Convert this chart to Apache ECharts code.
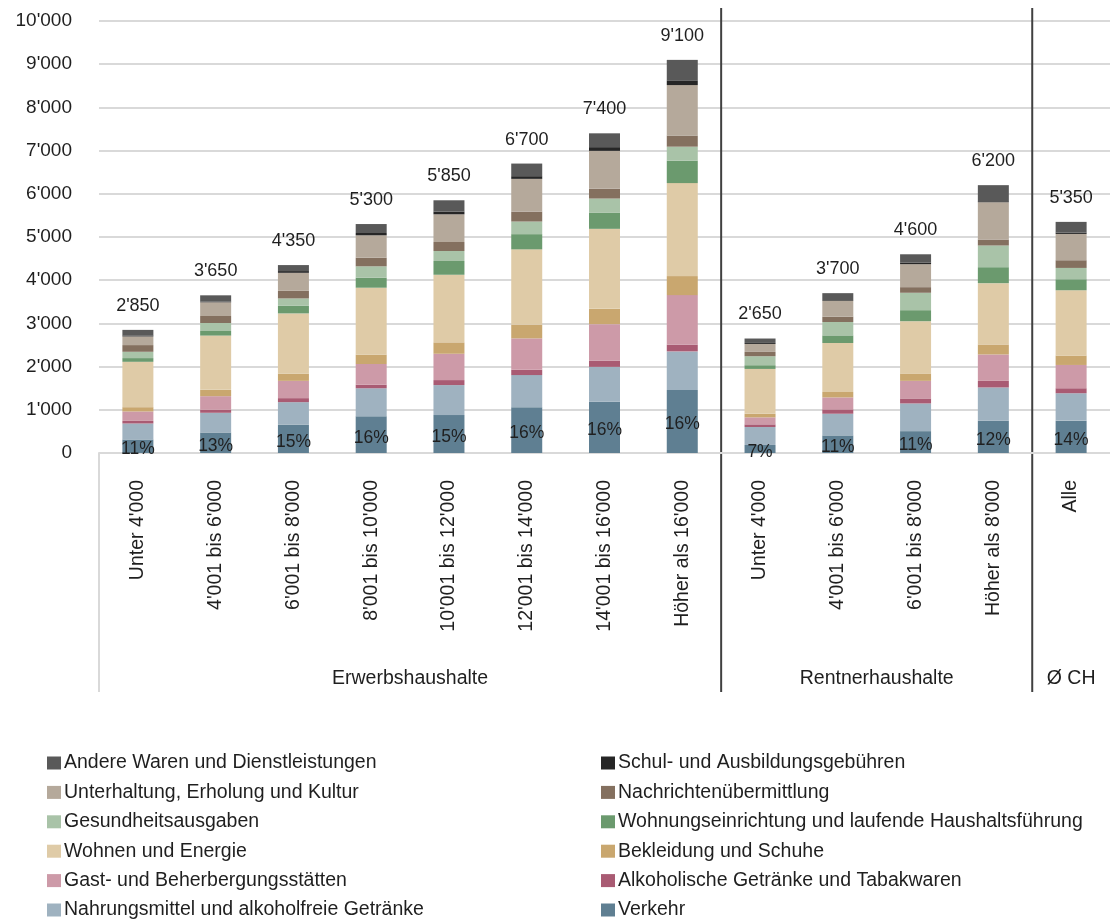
<!DOCTYPE html>
<html>
<head>
<meta charset="utf-8">
<script src="https://cdn.jsdelivr.net/npm/echarts@6/dist/echarts.min.js"></script>
<style>
  html, body { margin: 0; padding: 0; background: #ffffff; }
  #chart { width: 1110px; height: 921px; }
</style>
</head>
<body>
<div id="chart"></div>
<script>
// Monatliche Konsumausgaben nach Haushaltstyp und Bruttoeinkommensklasse (CHF)
const categories = [
  "Unter 4'000", "4'001 bis 6'000", "6'001 bis 8'000", "8'001 bis 10'000",
  "10'001 bis 12'000", "12'001 bis 14'000", "14'001 bis 16'000", "Höher als 16'000",
  "Unter 4'000", "4'001 bis 6'000", "6'001 bis 8'000", "Höher als 8'000",
  "Alle"
];
const groupNames = ["Erwerbshaushalte", "Rentnerhaushalte", "Ø CH"];
const groupSizes = [8, 4, 1];

// y-axis ticks (CHF)
const yMin = 0, yMax = 10000, yStep = 1000;

// Ausgabenposten, von unten nach oben gestapelt
const verkehr             = [313, 475, 652, 848, 878, 1060, 1184, 1456, 186, 407, 506, 744, 749];
const nahrungsmittel      = [370, 456, 525, 650, 694, 744, 810, 896, 415, 502, 641, 773, 634];
const alkoholTabak        = [60, 69, 93, 83, 116, 123, 146, 155, 62, 100, 116, 153, 116];
const gastBeherbergung    = [218, 315, 400, 479, 609, 727, 843, 1148, 162, 278, 407, 611, 539];
const bekleidung          = [100, 148, 169, 215, 264, 315, 354, 440, 83, 125, 171, 231, 215];
const wohnenEnergie       = [1050, 1255, 1392, 1551, 1565, 1745, 1852, 2153, 1038, 1134, 1210, 1419, 1514];
const wohnungseinrichtung = [86, 106, 176, 231, 319, 352, 377, 519, 86, 176, 255, 370, 255];
const gesundheit          = [146, 185, 171, 264, 231, 292, 324, 324, 208, 310, 403, 502, 262];
const nachrichten         = [155, 162, 176, 199, 208, 231, 231, 255, 100, 123, 130, 139, 178];
const unterhaltung        = [200, 317, 417, 519, 641, 757, 873, 1171, 185, 370, 532, 863, 609];
const schulgebuehren      = [23, 16, 40, 53, 62, 62, 86, 109, 23, 16, 39, 23, 30];
const andere              = [129, 146, 139, 208, 263, 292, 320, 474, 102, 159, 190, 372, 249];

const stack = [
  { name: "Verkehr", data: verkehr, color: "#5f7f92" },
  { name: "Nahrungsmittel und alkoholfreie Getränke", data: nahrungsmittel, color: "#9fb2c0" },
  { name: "Alkoholische Getränke und Tabakwaren", data: alkoholTabak, color: "#a95b73" },
  { name: "Gast- und Beherbergungsstätten", data: gastBeherbergung, color: "#cd9aa8" },
  { name: "Bekleidung und Schuhe", data: bekleidung, color: "#c9a76f" },
  { name: "Wohnen und Energie", data: wohnenEnergie, color: "#dfcba7" },
  { name: "Wohnungseinrichtung und laufende Haushaltsführung", data: wohnungseinrichtung, color: "#6b9a6e" },
  { name: "Gesundheitsausgaben", data: gesundheit, color: "#a9c3a8" },
  { name: "Nachrichtenübermittlung", data: nachrichten, color: "#84705f" },
  { name: "Unterhaltung, Erholung und Kultur", data: unterhaltung, color: "#b5a99b" },
  { name: "Schul- und Ausbildungsgebühren", data: schulgebuehren, color: "#262626" },
  { name: "Andere Waren und Dienstleistungen", data: andere, color: "#595959" }
];

const legendLeft = [
  "Andere Waren und Dienstleistungen", "Unterhaltung, Erholung und Kultur",
  "Gesundheitsausgaben", "Wohnen und Energie",
  "Gast- und Beherbergungsstätten", "Nahrungsmittel und alkoholfreie Getränke"
];
const legendRight = [
  "Schul- und Ausbildungsgebühren", "Nachrichtenübermittlung",
  "Wohnungseinrichtung und laufende Haushaltsführung", "Bekleidung und Schuhe",
  "Alkoholische Getränke und Tabakwaren", "Verkehr"
];

const FONT = "'Liberation Sans', Arial, sans-serif";
const TEXT = "#1f1f1f";

function fmt(v) {
  return String(Math.round(v)).replace(/\B(?=(\d{3})+(?!\d))/g, "'");
}
function total(i) {
  return stack.reduce((s, d) => s + d.data[i], 0);
}

const series = stack.map((d, k) => {
  const s = {
    name: d.name,
    type: "bar",
    stack: "ausgaben",
    data: d.data,
    barWidth: 31,
    itemStyle: { color: d.color },
    emphasis: { disabled: true }
  };
  if (k === 0) {
    s.label = {
      show: true,
      position: "inside",
      offset: [0, 3],
      fontFamily: FONT,
      fontSize: 17.5,
      color: TEXT,
      formatter: p => Math.round(p.value / total(p.dataIndex) * 100) + "%"
    };
  }
  if (k === stack.length - 1) {
    s.label = {
      show: true,
      position: "top",
      distance: 15,
      fontFamily: FONT,
      fontSize: 18,
      color: TEXT,
      formatter: p => fmt(total(p.dataIndex))
    };
  }
  return s;
});

function legendBlock(names, left) {
  return {
    orient: "vertical",
    left: left,
    top: 753,
    height: 170,
    padding: 0,
    itemWidth: 14,
    itemHeight: 13,
    itemGap: 9.4,
    icon: "rect",
    selectedMode: false,
    data: names,
    textStyle: { fontFamily: FONT, fontSize: 19.5, color: TEXT, lineHeight: 20, padding: [0, 0, 0, -2] }
  };
}

const chart = echarts.init(document.getElementById("chart"), null, { renderer: "canvas" });
chart.setOption({
  animation: false,
  backgroundColor: "#ffffff",
  textStyle: { fontFamily: FONT },
  grid: { left: 99, top: 21, width: 1016, height: 432, containLabel: false },
  legend: [legendBlock(legendLeft, 47), legendBlock(legendRight, 601)],
  xAxis: {
    type: "category",
    data: categories,
    axisLine: { lineStyle: { color: "#d9d9d9", width: 2 } },
    axisTick: { show: false },
    axisLabel: {
      rotate: 90, interval: 0, margin: 27,
      fontFamily: FONT, fontSize: 19.5, color: TEXT
    }
  },
  yAxis: {
    type: "value",
    min: yMin, max: yMax, interval: yStep,
    axisLine: { show: false },
    axisTick: { show: false },
    splitLine: { lineStyle: { color: "#d9d9d9", width: 2 } },
    axisLabel: {
      margin: 27, fontFamily: FONT, fontSize: 19, color: TEXT,
      formatter: v => fmt(v)
    }
  },
  series: series
});

// Gruppenbeschriftung und Trennlinien unter der Kategorienachse
function drawGroups() {
  const cx = i => chart.convertToPixel({ xAxisIndex: 0 }, i);
  const half = (cx(1) - cx(0)) / 2;
  const yZero = chart.convertToPixel({ yAxisIndex: 0 }, 0);
  const top = 8, bottom = 692, labelY = 679;
  const graphics = [];
  graphics.push({
    type: "line", silent: true,
    shape: { x1: cx(0) - half, y1: yZero, x2: cx(0) - half, y2: bottom },
    style: { stroke: "#d9d9d9", lineWidth: 2 }
  });
  let start = 0;
  groupSizes.forEach((n, g) => {
    const end = start + n - 1;
    const mid = (cx(start) + cx(end)) / 2;
    graphics.push({
      type: "text", silent: true,
      x: mid, y: labelY,
      style: {
        text: groupNames[g], fill: TEXT, font: "19.5px " + FONT,
        align: "center", verticalAlign: "middle"
      }
    });
    if (g < groupSizes.length - 1) {
      const xb = cx(end) + half;
      graphics.push({
        type: "line", silent: true,
        shape: { x1: xb, y1: top, x2: xb, y2: bottom },
        style: { stroke: "#404040", lineWidth: 2 }
      });
    }
    start = end + 1;
  });
  chart.setOption({ graphic: graphics });
}
drawGroups();
</script>
</body>
</html>
